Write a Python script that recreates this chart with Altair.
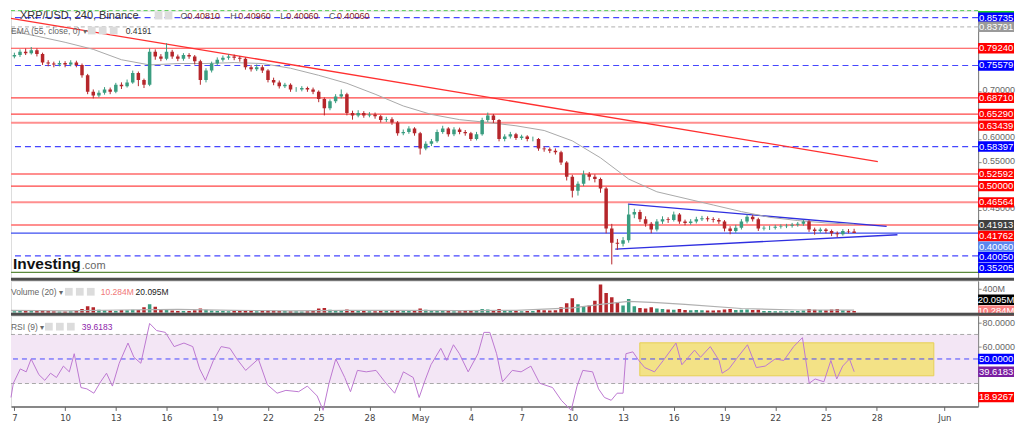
import altair as alt
import pandas as pd

# ---------------- data ----------------
FIRST_OPEN = 0.772
close = [
    0.775, 0.778, 0.785, 0.782, 0.788, 0.780, 0.762, 0.760, 0.758, 0.761,
    0.758, 0.762, 0.757, 0.735, 0.700, 0.692, 0.698, 0.705, 0.700, 0.715,
    0.712, 0.720, 0.740, 0.725, 0.715, 0.785, 0.775, 0.770, 0.785, 0.775,
    0.770, 0.778, 0.775, 0.765, 0.725, 0.745, 0.760, 0.768, 0.772, 0.775,
    0.772, 0.770, 0.752, 0.748, 0.752, 0.745, 0.725, 0.720, 0.712, 0.715,
    0.705, 0.705, 0.708, 0.705, 0.700, 0.685, 0.665, 0.680, 0.690, 0.695,
    0.655, 0.650, 0.655, 0.650, 0.652, 0.648, 0.640, 0.642, 0.635, 0.612,
    0.615, 0.622, 0.612, 0.580, 0.590, 0.595, 0.615, 0.622, 0.610, 0.620,
    0.615, 0.612, 0.600, 0.610, 0.640, 0.650, 0.640, 0.600, 0.605, 0.610,
    0.602, 0.605, 0.600, 0.600, 0.580, 0.578, 0.575, 0.572, 0.550, 0.520,
    0.490, 0.505, 0.525, 0.520, 0.515, 0.495, 0.410, 0.380, 0.378, 0.385,
    0.440, 0.445, 0.430, 0.420, 0.408, 0.425, 0.430, 0.428, 0.440, 0.425,
    0.422, 0.425, 0.430, 0.432, 0.430, 0.428, 0.425, 0.410, 0.405, 0.412,
    0.425, 0.435, 0.430, 0.410, 0.412, 0.412, 0.414, 0.415, 0.416, 0.418,
    0.420, 0.425, 0.408, 0.405, 0.408, 0.405, 0.400, 0.398, 0.405, 0.404,
    0.4006]
high = [
    0.780, 0.783, 0.790, 0.792, 0.795, 0.792, 0.783, 0.767, 0.764, 0.766,
    0.765, 0.767, 0.766, 0.760, 0.738, 0.705, 0.703, 0.710, 0.709, 0.719,
    0.720, 0.726, 0.745, 0.743, 0.728, 0.792, 0.790, 0.780, 0.803, 0.789,
    0.779, 0.782, 0.782, 0.778, 0.768, 0.750, 0.764, 0.773, 0.777, 0.780,
    0.779, 0.776, 0.773, 0.757, 0.758, 0.757, 0.748, 0.730, 0.724, 0.719,
    0.718, 0.710, 0.712, 0.711, 0.709, 0.703, 0.688, 0.684, 0.695, 0.705,
    0.698, 0.660, 0.661, 0.659, 0.657, 0.656, 0.651, 0.647, 0.646, 0.638,
    0.620, 0.627, 0.625, 0.615, 0.595, 0.600, 0.620, 0.628, 0.625, 0.625,
    0.624, 0.619, 0.615, 0.615, 0.645, 0.656, 0.653, 0.642, 0.610, 0.615,
    0.613, 0.609, 0.608, 0.605, 0.602, 0.584, 0.582, 0.580, 0.575, 0.553,
    0.524, 0.510, 0.533, 0.530, 0.525, 0.518, 0.498, 0.420, 0.388, 0.392,
    0.461, 0.452, 0.450, 0.436, 0.424, 0.430, 0.436, 0.434, 0.446, 0.443,
    0.429, 0.430, 0.435, 0.437, 0.436, 0.434, 0.432, 0.428, 0.415, 0.418,
    0.430, 0.440, 0.439, 0.433, 0.416, 0.416, 0.418, 0.419, 0.420, 0.422,
    0.424, 0.429, 0.428, 0.412, 0.412, 0.411, 0.408, 0.404, 0.409, 0.409,
    0.4096]
low = [
    0.768, 0.771, 0.774, 0.778, 0.779, 0.775, 0.757, 0.754, 0.752, 0.754,
    0.752, 0.754, 0.752, 0.730, 0.695, 0.686, 0.688, 0.694, 0.695, 0.697,
    0.706, 0.709, 0.717, 0.712, 0.708, 0.712, 0.768, 0.765, 0.767, 0.770,
    0.765, 0.766, 0.770, 0.758, 0.715, 0.720, 0.741, 0.756, 0.764, 0.768,
    0.767, 0.764, 0.747, 0.743, 0.744, 0.740, 0.720, 0.714, 0.707, 0.708,
    0.700, 0.700, 0.701, 0.700, 0.695, 0.678, 0.650, 0.661, 0.676, 0.686,
    0.650, 0.641, 0.646, 0.645, 0.646, 0.643, 0.635, 0.636, 0.630, 0.607,
    0.608, 0.611, 0.607, 0.567, 0.576, 0.585, 0.592, 0.611, 0.605, 0.606,
    0.610, 0.607, 0.596, 0.597, 0.607, 0.636, 0.634, 0.595, 0.595, 0.601,
    0.598, 0.598, 0.595, 0.595, 0.575, 0.573, 0.570, 0.567, 0.545, 0.512,
    0.476, 0.480, 0.500, 0.512, 0.508, 0.486, 0.400, 0.334, 0.365, 0.372,
    0.380, 0.432, 0.424, 0.414, 0.400, 0.404, 0.420, 0.422, 0.425, 0.420,
    0.417, 0.418, 0.421, 0.426, 0.425, 0.423, 0.420, 0.404, 0.398, 0.401,
    0.408, 0.421, 0.425, 0.405, 0.406, 0.407, 0.408, 0.410, 0.411, 0.412,
    0.414, 0.416, 0.403, 0.397, 0.401, 0.400, 0.394, 0.392, 0.395, 0.400,
    0.4006]
volume_m = [
    30, 25, 35, 28, 30, 40, 45, 30, 25, 22,
    20, 25, 30, 60, 110, 90, 50, 40, 35, 30,
    45, 40, 50, 45, 90, 140, 100, 60, 45, 35,
    30, 30, 28, 40, 70, 50, 35, 30, 28, 25,
    30, 28, 35, 30, 25, 35, 40, 35, 30, 28,
    25, 25, 22, 25, 30, 70, 80, 50, 40, 40,
    55, 35, 30, 28, 25, 25, 30, 28, 30, 45,
    30, 28, 35, 70, 50, 35, 40, 30, 28, 25,
    25, 28, 35, 30, 60, 55, 40, 60, 35, 30,
    28, 25, 28, 30, 45, 40, 35, 40, 90, 160,
    240, 140, 110, 120, 200, 470, 330, 260, 180, 120,
    230, 110, 80, 70, 90, 70, 60, 55, 50, 60,
    45, 40, 45, 40, 35, 35, 40, 55, 60, 45,
    50, 55, 45, 50, 30, 28, 25, 25, 25, 28,
    30, 35, 60, 50, 45, 40, 55, 60, 40, 35,
    30]
ema_index = list(range(0, 151, 5))
ema_value = [0.830, 0.818, 0.805, 0.790, 0.768, 0.757, 0.760, 0.760, 0.762, 0.760,
             0.750, 0.735, 0.718, 0.695, 0.670, 0.652, 0.641, 0.635, 0.628, 0.618,
             0.596, 0.560, 0.515, 0.488, 0.474, 0.460, 0.446, 0.434, 0.427, 0.422,
             0.419]
vol_ma_index = [0, 10, 20, 30, 40, 50, 60, 70, 80, 90, 100, 105, 110, 115, 120, 130, 140, 150]
vol_ma_value = [40, 32, 45, 55, 40, 32, 40, 38, 36, 40, 80, 140, 190, 170, 140, 70, 45, 42]

rsi_day = [-0.2, -0.06, 0.35, 0.70, 0.99, 1.45, 1.80, 2.14, 2.49, 2.90, 3.25, 3.54, 3.94, 4.29,
           4.70, 5.10, 5.45, 5.80, 6.20, 6.72, 7.07, 7.48, 8.00, 8.41, 8.93, 9.45, 10.03, 10.55,
           10.96, 11.30, 11.77, 12.23, 12.75, 13.16, 13.68, 14.43, 14.96, 15.54, 16.06, 16.81,
           17.33, 17.91, 18.26, 18.61, 19.01, 19.54, 19.88, 20.29, 20.81, 21.39, 21.91, 22.49,
           23.01, 23.59, 23.94, 24.29, 24.64, 25.22, 25.57, 25.97, 26.32, 26.84, 27.42, 27.77,
           28.12, 28.52, 28.87, 29.45, 29.97, 30.55, 31.07, 31.83, 32.35, 32.93, 33.28, 33.62,
           34.20, 34.55, 34.90, 35.30, 35.65, 36.00, 36.17, 36.58, 36.93, 37.28, 37.86, 38.38,
           39.13, 39.48, 40.23, 40.58, 41.16, 41.68, 41.86, 42.26, 42.78, 43.36, 43.88, 44.41,
           44.99, 45.51, 46.09, 46.61, 47.01, 47.36, 47.88, 48.29, 48.64, 48.99, 49.39, 49.67]
rsi_value = [18.6, 30.2, 41.9, 39.5, 50.0, 37.2, 32.6, 38.4, 34.9, 44.2, 39.5, 54.3, 26.7, 25.6,
             22.1, 31.4, 38.4, 27.9, 46.5, 63.0, 51.4, 46.5, 79.0, 73.2, 71.7, 60.1, 63.0, 60.1,
             41.9, 32.6, 48.8, 60.1, 58.7, 50.0, 40.7, 50.0, 29.1, 22.1, 24.4, 23.3,
             27.9, 19.8, 8.1, 30.2, 50.0, 34.9, 23.3, 40.7, 39.5, 40.7, 31.4, 22.1,
             39.5, 34.9, 18.6, 32.6, 45.3, 58.7, 48.8, 61.6, 54.3, 39.5, 54.3, 71.7,
             71.7, 54.3, 31.4, 40.7, 39.5, 44.2, 30.2, 26.7, 16.3, 8.1, 27.9, 40.7,
             39.5, 25.6, 18.6, 16.3, 22.1, 22.1, 54.3, 55.8, 48.8, 43.0, 39.5, 48.8,
             63.0, 45.3, 57.2, 51.4, 60.1, 48.8, 38.4, 41.9, 51.4, 61.6, 43.0, 44.2,
             50.0, 48.8, 60.1, 67.4, 30.2, 33.7, 31.4, 48.8, 33.7, 44.2, 50.0, 39.6]

red_levels = [0.79240, 0.68710, 0.65290, 0.50000]
pink_levels = [0.63439, 0.52592, 0.46564, 0.41762]
blue_dash_levels = [0.85735, 0.75579, 0.58397, 0.35205]
grey_dash_levels = [0.83791]
green_dash_levels = [0.88504]
blue_solid_levels = [0.40050]
green_solid_levels = [0.31700]

red_trend_day = [-0.2, 51.07]
red_trend_price = [0.8558, 0.552]
tri_up_day = [36.29, 51.59]
tri_up_price = [0.4618, 0.4146]
tri_lo_day = [35.54, 52.23]
tri_lo_price = [0.3665, 0.3970]
rsi_box_day = [36.99, 54.38]
rsi_box_value = [36.3, 63.2]

price_ticks = [0.45, 0.55, 0.60, 0.70]
vol_ticks = [400]
rsi_ticks = [60, 80]

price_label_text = ["0.85735", "0.83791", "0.79240", "0.75579", "0.68710",
                    "0.65290", "0.63439", "0.58397", "0.52592", "0.50000", "0.46564",
                    "0.41913", "0.41762", "0.40060", "0.40050", "0.35205"]
price_label_pos = [0.85735, 0.83791, 0.79240, 0.75579, 0.68710, 0.65290, 0.6284,
                   0.58397, 0.52592, 0.50000, 0.46564, 0.4170, 0.3944, 0.3718, 0.3494, 0.3267]
price_label_fill = ["#0000ff", "#9a9a9a", "#ff0000", "#0000ff", "#ff0000",
                    "#ff0000", "#ff0000", "#0000ff", "#ff0000", "#ff0000", "#ff0000",
                    "#404040", "#ff0000", "#5b87f0", "#0000ff", "#0000ff"]
vol_label_text = ["20.095M", "10.284M"]
vol_label_pos = [216, 33]
vol_label_fill = ["#000000", "#f98080"]
rsi_label_text = ["50.0000", "39.6183", "18.9267"]
rsi_label_pos = [50.0, 39.6183, 18.9267]
rsi_label_fill = ["#0000ff", "#7b1fa2", "#ff0000"]

n = len(close)
assert len(high) == n and len(low) == n and len(volume_m) == n
assert len(ema_index) == len(ema_value) and len(rsi_day) == len(rsi_value)
assert len(vol_ma_index) == len(vol_ma_value)

# ---------------- layout ----------------
W = 970
BW = 36
H_MAIN, H_VOL, H_RSI = 268, 32, 91
FONT = "Liberation Sans"
NARROW = "Liberation Sans Narrow, DejaVu Sans Condensed, Liberation Sans"
GREEN, RED = "#3a9d80", "#b5262b"
VGREEN, VRED = "#8fd3bd", "#f3a5a5"
BLUE_DASH = "#4646ff"
XDOM = [-0.2, 57.0]
BOX = "M-1,-0.29L1,-0.29L1,0.29L-1,0.29Z"

opens = [FIRST_OPEN] + close[:-1]
day = [(i - 1) / 3 for i in range(n)]
cdf = pd.DataFrame({"d": day, "o": opens, "c": close, "h": high, "l": low,
                    "v": volume_m, "z": [0] * n})
cdf["dir"] = ["up" if c >= o else "down" for o, c in zip(opens, close)]
dir_color = alt.Color("dir:N", scale=alt.Scale(domain=["up", "down"], range=[GREEN, RED]), legend=None)
vdir_color = alt.Color("dir:N", scale=alt.Scale(domain=["up", "down"], range=[VGREEN, VRED]), legend=None)

xs = alt.Scale(domain=XDOM, nice=False, zero=False)
SCALES = {
    "main": alt.Scale(domain=[0.3056, 0.8722], nice=False, zero=False, clamp=True),
    "vol": alt.Scale(domain=[0, 533], nice=False, zero=False),
    "rsi": alt.Scale(domain=[11.3, 85.3], nice=False, zero=False),
}
AX = dict(labelFontSize=9, labelColor="#666", tickColor="#888", domainColor="#777", tickSize=3,
          grid=False, title=None, labelPadding=1, zindex=0, labelFont=FONT)
AXES = {
    "main": alt.Axis(orient="right", values=price_ticks, format=".5f", labelOffset=-2, **AX),
    "vol": alt.Axis(orient="right", values=vol_ticks, labelExpr="datum.value + 'M'", **AX),
    "rsi": alt.Axis(orient="right", values=rsi_ticks, format=".4f", **AX),
}
lab = "datetime(2022,3,7+datum.value)"
X_AXIS = alt.Axis(orient="bottom", values=[0, 3, 6, 9, 12, 15, 18, 21, 24, 27, 30, 33, 36, 39, 42, 45, 48, 51, 55],
                  labelExpr=f"date({lab})==1 ? timeFormat({lab},'%b') : timeFormat({lab},'%-d')",
                  labelFontSize=9.5, labelColor="#444", tickColor="#666", tickSize=4, domainColor="#666",
                  domainWidth=1.5, grid=False, title=None, labelFont=NARROW,
                  labelPadding=2, labelOverlap=False, labelFlush=False, zindex=0)


def X(f, pane):
    return alt.X(f, type="quantitative", scale=xs, axis=X_AXIS if pane == "rsi" else None, title=None)


def Y(f, pane):
    return alt.Y(f, type="quantitative", scale=SCALES[pane], axis=AXES[pane], title=None)


def one():
    return pd.DataFrame({"k": [0]})


def txt(s, px, py, color="#555", size=8.5, weight="normal"):
    return alt.Chart(one()).mark_text(text=s, align="left", baseline="middle", fontSize=size,
                                      fontWeight=weight, color=color, font=FONT).encode(
        x=alt.value(px), y=alt.value(py))


def icon(px, py):
    return alt.Chart(one()).mark_square(size=60, color="#dcdcdc", opacity=1).encode(
        x=alt.value(px), y=alt.value(py))


def levels(vals, color, width, dash=None, pane="main"):
    kw = dict(color=color, strokeWidth=width)
    if dash:
        kw["strokeDash"] = dash
    return alt.Chart(pd.DataFrame({"p": vals})).mark_rule(**kw).encode(y=Y("p", pane))


def label_boxes(texts, pos, fills, pane):
    df = pd.DataFrame({"t": texts, "p": pos, "f": fills})
    base = alt.Chart(df)
    box = base.mark_point(shape=BOX, filled=True, size=BW * BW, opacity=1, strokeWidth=0).encode(
        x=alt.value(W + BW / 2), y=Y("p", pane), color=alt.Color("f:N", scale=None))
    t = base.mark_text(color="white", fontSize=9.5, font=FONT, align="center", baseline="middle").encode(
        x=alt.value(W + BW / 2), y=Y("p", pane), text="t:N")
    return box + t


def seg(d, p, color, width):
    df = pd.DataFrame({"d": [d[0]], "p": [p[0]], "d2": [d[1]], "p2": [p[1]]})
    return alt.Chart(df).mark_rule(color=color, strokeWidth=width, clip=True).encode(
        x=X("d", "main"), y=Y("p", "main"), x2="d2", y2="p2")


# ---------------- main pane ----------------
ema_df = pd.DataFrame({"d": [(i - 1) / 3 for i in ema_index], "p": ema_value})
main_layers = [
    levels(green_dash_levels, "#55cc55", 1, [4, 3]),
    levels(grey_dash_levels, "#c0c0c0", 1.2, [4, 3]),
    levels(blue_dash_levels, BLUE_DASH, 1.2, [6, 4]),
    levels(red_levels, "#ff4444", 1.2),
    levels(pink_levels, "#ff8f8f", 2),
    levels(blue_solid_levels, "#3d4ef0", 1.2),
    levels(green_solid_levels, "#5b8a3c", 1.2),
    seg(red_trend_day, red_trend_price, "#ff3030", 1.3),
    seg(tri_up_day, tri_up_price, "#2f2fe0", 1.4),
    seg(tri_lo_day, tri_lo_price, "#2f2fe0", 1.4),
    alt.Chart(ema_df).mark_line(color="#a9a9a9", strokeWidth=1, clip=True).encode(
        x=X("d", "main"), y=Y("p", "main")),
    alt.Chart(cdf).mark_rule(strokeWidth=1, clip=True).encode(
        x=X("d", "main"), y=Y("l", "main"), y2="h", color=dir_color),
    alt.Chart(cdf).mark_rule(strokeWidth=3.5, clip=True).encode(
        x=X("d", "main"), y=Y("o", "main"), y2="c", color=dir_color),
    alt.Chart(one()).mark_rect(color="#1fcf1f").encode(x=alt.value(W), x2=alt.value(W + BW),
                                                      y=alt.value(0.5), y2=alt.value(4)),
    txt("XRP/USD, 240, Binance", 9, 5, "#333", 11),
    icon(148, 5), icon(158, 5),
    txt("O", 170, 5, "#555", 9), txt("0.40810", 177, 5, "#8b1a1a", 9),
    txt("H", 220, 5, "#555", 9), txt("0.40960", 228, 5, "#8b1a1a", 9),
    txt("L", 270, 5, "#555", 9), txt("0.40060", 276, 5, "#8b1a1a", 9),
    txt("C", 319, 5, "#555", 9), txt("0.40060", 327, 5, "#8b1a1a", 9),
    txt("EMA (55, close, 0) \u25be", 0, 20, "#666"),
    icon(81, 20), icon(92, 20), icon(103, 20),
    txt("0.4191", 115, 20, "#333"),
    txt("Investing", 2, 254, "#111", 15.5, "bold"),
    txt(".com", 71, 256, "#666", 11),
    label_boxes(price_label_text, price_label_pos, price_label_fill, "main"),
]
main = alt.layer(*main_layers).properties(width=W, height=H_MAIN)

# ---------------- volume pane ----------------
vma_df = pd.DataFrame({"d": [(i - 1) / 3 for i in vol_ma_index], "v": vol_ma_value})
sep = lambda: alt.Chart(one()).mark_rule(color="#4d4d4d", strokeWidth=3).encode(
    x=alt.value(0), x2=alt.value(W + BW), y=alt.value(-1.5))
vol_layers = [
    alt.Chart(cdf).mark_rule(strokeWidth=3.5, clip=True).encode(
        x=X("d", "vol"), y=Y("v", "vol"), y2="z", color=vdir_color),
    alt.Chart(vma_df).mark_line(color="#b0b0b0", strokeWidth=1.2, clip=True).encode(
        x=X("d", "vol"), y=Y("v", "vol")),
    txt("Volume (20) \u25be", 0, 11, "#666"),
    icon(58, 11), icon(69, 11), icon(80, 11),
    txt("10.284M", 90, 11, "#f07878"),
    txt("20.095M", 125, 11, "#222"),
    label_boxes(vol_label_text, vol_label_pos, vol_label_fill, "vol"),
    sep(),
]
vol = alt.layer(*vol_layers).properties(width=W, height=H_VOL)

# ---------------- RSI pane ----------------
band = pd.DataFrame({"lo": [30], "hi": [70]})
box_df = pd.DataFrame({"d": [rsi_box_day[0]], "d2": [rsi_box_day[1]], "lo": [rsi_box_value[0]],
                       "hi": [rsi_box_value[1]]})
rsi_df = pd.DataFrame({"d": rsi_day, "r": rsi_value})
rsi_layers = [
    alt.Chart(band).mark_rect(color="#f3e6f5").encode(x=alt.value(0), x2=alt.value(W),
                                                      y=Y("lo", "rsi"), y2="hi"),
    levels([30, 70], "#a9a9a9", 1, [4, 3], "rsi"),
    alt.Chart(box_df).mark_rect(color="#f3e27a", opacity=0.9, stroke="#e6cf45", strokeWidth=1).encode(
        x=X("d", "rsi"), x2="d2", y=Y("lo", "rsi"), y2="hi"),
    levels([50], BLUE_DASH, 1, [5, 4], "rsi"),
    alt.Chart(rsi_df).mark_line(color="#bd78d1", strokeWidth=1).encode(x=X("d", "rsi"), y=Y("r", "rsi")),
    txt("RSI (9) \u25be", 0, 11, "#666"),
    icon(38, 11), icon(49, 11), icon(60, 11),
    txt("39.6183", 71, 11, "#8e24aa"),
    label_boxes(rsi_label_text, rsi_label_pos, rsi_label_fill, "rsi"),
    sep(),
]
rsi = alt.layer(*rsi_layers).properties(width=W, height=H_RSI)

chart = alt.vconcat(main, vol, rsi, spacing=3, bounds="flush").properties(
    padding={"left": 0, "top": 0, "right": 0, "bottom": 0}
).configure_view(stroke=None).configure(font=FONT)

chart.save("out.html", embed_options={"renderer": "svg", "actions": False})
